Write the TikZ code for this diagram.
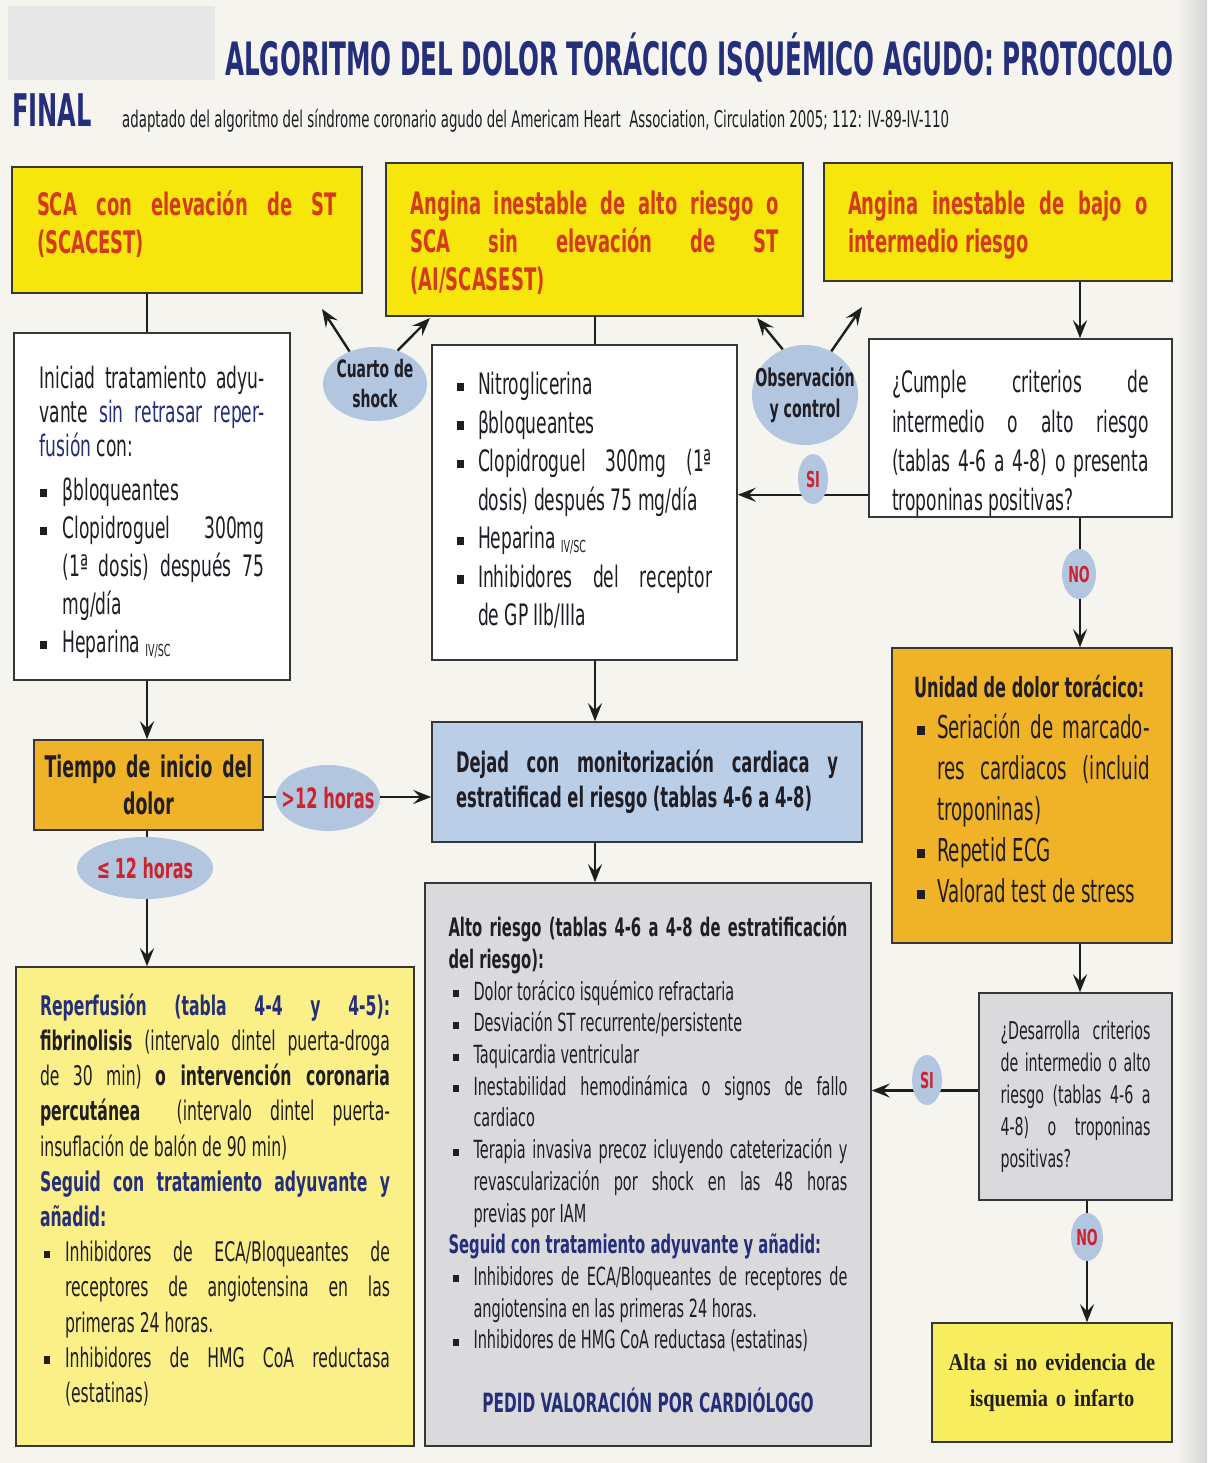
\documentclass[tikz,border=0pt]{standalone}
\usepackage{fontspec}
\usetikzlibrary{arrows.meta,shapes.geometric}
\newfontfamily\cf[FakeStretch=0.58]{DejaVu Sans}
\newfontfamily\tf[FakeStretch=0.536]{DejaVu Sans}
\newfontfamily\serb[FakeStretch=0.85]{Liberation Serif}
\setlength{\parindent}{0pt}
\tolerance=10000 \pretolerance=-1 \hyphenpenalty=10000 \exhyphenpenalty=10000
\hbadness=10000 \vbadness=10000 \hfuzz=30pt
\definecolor{bg}{RGB}{245,244,239}
\definecolor{tlg}{RGB}{231,231,231}
\definecolor{ylw}{RGB}{246,230,12}
\definecolor{ttred}{RGB}{214,58,28}
\definecolor{org}{RGB}{240,178,38}
\definecolor{bbox}{RGB}{186,206,232}
\definecolor{ell}{RGB}{178,198,224}
\definecolor{lylw}{RGB}{250,240,135}
\definecolor{gbox}{RGB}{218,218,220}
\definecolor{aylw}{RGB}{248,236,95}
\definecolor{navy}{RGB}{36,46,122}
\definecolor{ink}{RGB}{32,30,36}
\definecolor{edge}{RGB}{55,55,55}
\definecolor{arr}{RGB}{30,30,30}
\definecolor{sired}{RGB}{205,35,45}
\definecolor{rstrip}{RGB}{214,214,214}
\newcommand\sqb{\raisebox{0.12em}{\rule{0.24em}{0.28em}}}
\newcommand\itm[3]{\par\hangindent=#1\relax\hangafter=1\noindent\makebox[#1][l]{\hspace{#2}\sqb}#3\par}
\newcommand\ivsc{\,{\fontsize{16.5}{16.5}\selectfont\raisebox{-4pt}{IV/SC}}}
\newcommand\xdepth[1]{\rule[-#1]{0pt}{1pt}}
\begin{document}
\begin{tikzpicture}[x=1pt,y=-1pt,
  box/.style={rectangle, draw=edge, line width=1.5pt, inner sep=0pt, align=justify},
  conn/.style={draw=arr, line width=2.4pt},
  arrow/.style={conn, -{Stealth[length=18pt,width=14pt,inset=7pt]}},
  bub/.style={ellipse, fill=ell, draw=none, inner sep=0pt},
  lbl/.style={inner sep=0pt, align=center}]
\useasboundingbox (0,0) rectangle (1207,1463);
\fill[bg] (0,0) rectangle (1207,1463);
\fill[tlg] (8,6) rectangle (215,80);
\shade[left color=bg, right color=rstrip] (1176,0) rectangle (1207,1463);

% title
\node[anchor=base west, inner sep=0pt, text=navy, font=\tf\bfseries\fontsize{46}{46}\selectfont] (title) at (225,76) {ALGORITMO DEL DOLOR TORÁCICO ISQUÉMICO AGUDO: PROTOCOLO};
\node[anchor=base west, inner sep=0pt, text=navy, font=\tf\bfseries\fontsize{45}{45}\selectfont] (final) at (12,127) {FINAL};
\node[anchor=base west, inner sep=0pt, text=ink, font=\cf\fontsize{23}{23}\selectfont] (sub) at (122,128) {adaptado del algoritmo del síndrome coronario agudo del Americam Heart\ \ Association, Circulation 2005; 112: IV-89-IV-110};

% top row
\node[box, fill=ylw, minimum width=350pt, minimum height=126pt, text width=300pt, text=ttred, font=\cf\bfseries\fontsize{31}{38}\selectfont] (scacest) at (187,230) {SCA con elevación de ST\linebreak (SCACEST)\xdepth{16pt}};
\node[box, fill=ylw, minimum width=417pt, minimum height=153pt, text width=368pt, text=ttred, font=\cf\bfseries\fontsize{31}{38}\selectfont] (ai) at (594.5,239.5) {\rule{0pt}{30pt}Angina inestable de alto riesgo o\linebreak SCA sin elevación de ST\linebreak (AI/SCASEST)};
\node[box, fill=ylw, minimum width=348pt, minimum height=118pt, text width=300pt, text=ttred, font=\cf\bfseries\fontsize{31}{38}\selectfont] (bajo) at (998,222) {\rule{0pt}{30pt}Angina inestable de bajo o\linebreak intermedio riesgo};

% second row
\node[box, fill=white, minimum width=276pt, minimum height=347pt, text width=225pt, text=ink, font=\cf\fontsize{29.5}{38}\selectfont] (iniciad) at (152,506.5) {{\fontsize{29.5}{34}\selectfont\rule{0pt}{34pt}Iniciad tratamiento adyu-\linebreak vante \textcolor{navy}{sin retrasar reper-\linebreak fusión} con:\par}\vskip6pt
\itm{23pt}{0pt}{βbloqueantes}
\itm{23pt}{0pt}{Clopidroguel 300mg\linebreak (1ª dosis) después 75\linebreak mg/día}
\itm{23pt}{0pt}{Heparina\ivsc}};
\node[box, fill=white, minimum width=305pt, minimum height=315pt, text width=255pt, text=ink, font=\cf\fontsize{29.5}{38.5}\selectfont] (nitro) at (584.5,502.5) {\itm{21pt}{0pt}{Nitroglicerina}
\itm{21pt}{0pt}{βbloqueantes}
\itm{21pt}{0pt}{Clopidroguel 300mg (1ª\linebreak dosis) después 75 mg/día}
\itm{21pt}{0pt}{Heparina\ivsc}
\itm{21pt}{0pt}{Inhibidores del receptor\linebreak de GP IIb/IIIa\xdepth{23pt}}};
\node[box, fill=white, minimum width=303pt, minimum height=168pt, text width=257pt, text=ink, font=\cf\fontsize{29.5}{39.3}\selectfont] (cumple) at (1020.5,428) {\rule{0pt}{54pt}¿Cumple criterios de\linebreak intermedio o alto riesgo\linebreak (tablas 4-6 a 4-8) o presenta\linebreak troponinas positivas?};

% middle
\node[box, fill=org, minimum width=229pt, minimum height=90pt, text width=225pt, align=center, text=ink, font=\cf\bfseries\fontsize{29.8}{37}\selectfont] (tiempo) at (148.5,785) {Tiempo de inicio del\\dolor};
\node[box, fill=bbox, minimum width=430pt, minimum height=120pt, text width=382pt, text=ink, font=\cf\bfseries\fontsize{28.2}{35}\selectfont] (dejad) at (647,782) {Dejad con monitorización cardiaca y\linebreak estratificad el riesgo (tablas 4-6 a 4-8)};
\node[box, fill=org, minimum width=280pt, minimum height=295pt, text width=236pt, text=ink, font=\cf\fontsize{31.5}{41}\selectfont] (unidad) at (1032,795.5) {{\bfseries\fontsize{27.8}{41}\selectfont Unidad de dolor torácico:\par}
\itm{23pt}{3pt}{Seriación de marcado-\linebreak res cardiacos (incluid\linebreak troponinas)}
\itm{23pt}{3pt}{Repetid ECG}
\itm{23pt}{3pt}{Valorad test de stress\xdepth{13pt}}};

% bottom
\node[box, fill=gbox, minimum width=446pt, minimum height=563pt, text width=399pt, text=ink, font=\cf\fontsize{25}{31.7}\selectfont] (alto) at (648,1164.5) {{\bfseries\fontsize{25.5}{31.7}\selectfont Alto riesgo (tablas 4-6 a 4-8 de estratificación\linebreak del riesgo):\par}
\itm{25pt}{4pt}{Dolor torácico isquémico refractaria}
\itm{25pt}{4pt}{Desviación ST recurrente/persistente}
\itm{25pt}{4pt}{Taquicardia ventricular}
\itm{25pt}{4pt}{Inestabilidad hemodinámica o signos de fallo\linebreak cardiaco}
\itm{25pt}{4pt}{Terapia invasiva precoz icluyendo cateterización y\linebreak revascularización por shock en las 48 horas\linebreak previas por IAM}
\noindent{\bfseries\fontsize{25.5}{31.7}\selectfont\color{navy}Seguid con tratamiento adyuvante y añadid:\par}
\itm{25pt}{4pt}{Inhibidores de ECA/Bloqueantes de receptores de\linebreak angiotensina en las primeras 24 horas.}
\itm{25pt}{4pt}{Inhibidores de HMG CoA reductasa (estatinas)}
\vskip31.7pt\noindent\makebox[\hsize]{\bfseries\fontsize{26.5}{31.7}\selectfont\color{navy}PEDID VALORACIÓN POR CARDIÓLOGO}};
\node[box, fill=lylw, minimum width=398pt, minimum height=479pt, text width=350pt, text=ink, font=\cf\fontsize{27}{35.2}\selectfont] (reperf) at (215,1206.5) {{\bfseries\color{navy}Reperfusión (tabla 4-4 y 4-5):}\linebreak
{\bfseries fibrinolisis} (intervalo dintel puerta-droga\linebreak de 30 min) {\bfseries o intervención coronaria}\linebreak {\bfseries percutánea}\ \ (intervalo dintel puerta-\linebreak insuflación de balón de 90 min)\par
\noindent{\bfseries\color{navy}Seguid con tratamiento adyuvante y\linebreak añadid:}
\itm{25pt}{4pt}{Inhibidores de ECA/Bloqueantes de\linebreak receptores de angiotensina en las\linebreak primeras 24 horas.}
\itm{25pt}{4pt}{Inhibidores de HMG CoA reductasa\linebreak (estatinas)\xdepth{17pt}}};
\node[box, fill=gbox, minimum width=193pt, minimum height=207pt, text width=150pt, text=ink, font=\cf\fontsize{24.5}{32}\selectfont] (desarr) at (1075.5,1096.5) {¿Desarrolla criterios\linebreak de intermedio o alto\linebreak riesgo (tablas 4-6 a\linebreak 4-8) o troponinas\linebreak positivas?};
\node[box, fill=aylw, minimum width=240pt, minimum height=119pt, text width=220pt, align=center, text=ink, font=\serb\bfseries\fontsize{24}{36}\selectfont] (alta) at (1052,1382.5) {Alta si no evidencia de\\isquemia o infarto};

% connectors
\coordinate (lx) at (147,0);
\coordinate (mx) at (595,0);
\coordinate (rx) at (1080,0);
\coordinate (rx2) at (1087,0);
\draw[conn] (scacest.south -| lx) -- (iniciad.north -| lx);
\draw[arrow] (iniciad.south -| lx) -- (tiempo.north -| lx);
\draw[arrow] (tiempo.south -| lx) -- (reperf.north -| lx);
\draw[arrow] ([yshift=-12pt]tiempo.east) -- ([yshift=-12pt]tiempo.east -| dejad.west);
\draw[conn] (ai.south -| mx) -- (nitro.north -| mx);
\draw[arrow] (nitro.south -| mx) -- (dejad.north -| mx);
\draw[arrow] (dejad.south -| mx) -- (alto.north -| mx);
\draw[arrow] (bajo.south -| rx) -- (cumple.north -| rx);
\draw[arrow] ([yshift=23pt]cumple.south west) -- ([yshift=23pt]cumple.south west -| nitro.east);
\draw[arrow] (cumple.south -| rx) -- (unidad.north -| rx);
\draw[arrow] (unidad.south -| rx) -- (desarr.north -| rx);
\draw[arrow] ([yshift=6pt]desarr.west) -- ([yshift=6pt]desarr.west -| alto.east);
\draw[arrow] (desarr.south -| rx2) -- (alta.north -| rx2);

% bubbles
\node[bub, minimum width=104pt, minimum height=74pt] (cuarto) at (375,384) {};
\node[lbl, text=ink, font=\cf\bfseries\fontsize{24}{30}\selectfont] (cuartoT) at (cuarto) {Cuarto de\\shock};
\node[bub, minimum width=106pt, minimum height=100pt] (obs) at (805,395) {};
\node[lbl, text=ink, font=\cf\bfseries\fontsize{24.5}{31}\selectfont] (obsT) at (obs) {Observación\\y control};
\node[bub, minimum width=30pt, minimum height=50pt] (si1) at (813,479) {};
\node[lbl, text=sired, font=\cf\bfseries\fontsize{22}{22}\selectfont] (si1T) at (si1) {SI};
\node[bub, minimum width=34pt, minimum height=50pt] (no1) at (1079,574) {};
\node[lbl, text=sired, font=\cf\bfseries\fontsize{22}{22}\selectfont] (no1T) at (no1) {NO};
\node[bub, minimum width=104pt, minimum height=66pt] (gt12) at (328,798) {};
\node[lbl, text=sired, font=\cf\bfseries\fontsize{28}{28}\selectfont] (gt12T) at (gt12) {>12 horas};
\node[bub, minimum width=136pt, minimum height=62pt] (le12) at (145,868) {};
\node[lbl, text=sired, font=\cf\bfseries\fontsize{27.5}{28}\selectfont] (le12T) at (le12) {≤\,12 horas};
\node[bub, minimum width=30pt, minimum height=50pt] (si2) at (927,1080) {};
\node[lbl, text=sired, font=\cf\bfseries\fontsize{22}{22}\selectfont] (si2T) at (si2) {SI};
\node[bub, minimum width=32pt, minimum height=48pt] (no2) at (1087,1237) {};
\node[lbl, text=sired, font=\cf\bfseries\fontsize{22}{22}\selectfont] (no2T) at (no2) {NO};

% bubble arrows
\coordinate (c1) at (322,309);
\coordinate (c2) at (430,318);
\coordinate (c3) at (757,318);
\coordinate (c4) at (862,307);
\draw[arrow] (cuarto.128) -- (c1);
\draw[arrow] (cuarto.56) -- (c2);
\draw[arrow] (obs.116) -- (c3);
\draw[arrow] (obs.59) -- (c4);
\end{tikzpicture}
\end{document}
